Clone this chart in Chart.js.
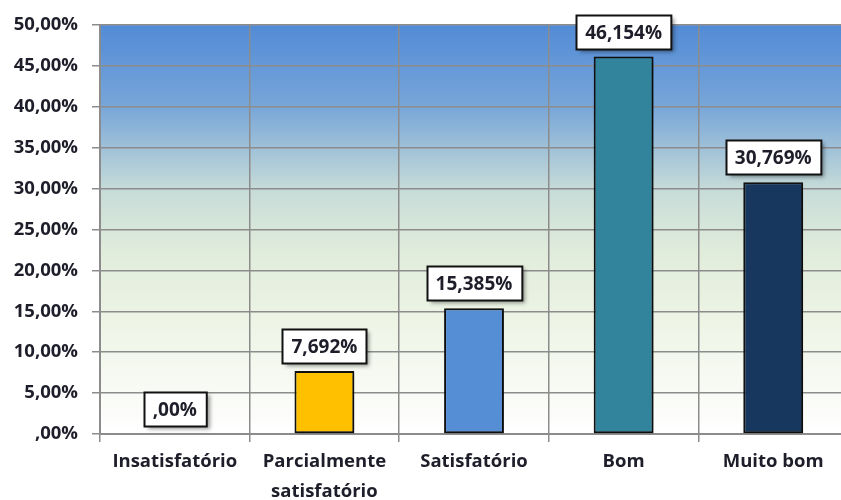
<!DOCTYPE html>
<html>
<head>
<meta charset="utf-8">
<script src="https://cdn.jsdelivr.net/npm/chart.js@4.4.1/dist/chart.umd.min.js"></script>
<style>
    html, body { margin: 0; padding: 0; background: #ffffff; overflow: hidden; }
    #chart { display: block; }
</style>
</head>
<body>
<canvas id="chart" width="850" height="500"></canvas>
<script>
// Chart data
const categories = ['Insatisfatório', ['Parcialmente', 'satisfatório'], 'Satisfatório', 'Bom', 'Muito bom'];
const values = [0, 7.692, 15.385, 46.154, 30.769];
const barColors = ['#ffc000', '#ffc000', '#558ed5', '#31849b', '#17375e'];
const yTicks = [0, 5, 10, 15, 20, 25, 30, 35, 40, 45, 50];

const FONT = '"Open Sans", "DejaVu Sans", sans-serif';
const TEXT = '#1e1e2a';

// pt-BR style number: 0 -> ",00%"
function fmt(v, digits) {
    if (v === 0) return ',' + '0'.repeat(digits) + '%';
    return v.toFixed(digits).replace('.', ',') + '%';
}

// gradient backdrop behind the plot area
const plotBackground = {
    id: 'plotBackground',
    beforeDraw: function(chart) {
        const { ctx, chartArea: a } = chart;
        const g = ctx.createLinearGradient(0, a.top, 0, a.bottom);
        g.addColorStop(0, '#528bd6');
        g.addColorStop(0.2, '#78a6d8');
        g.addColorStop(0.4, '#c6dbd8');
        g.addColorStop(0.55, '#e0ecdb');
        g.addColorStop(0.72, '#edf4e5');
        g.addColorStop(1, '#ffffff');
        ctx.save();
        ctx.fillStyle = g;
        ctx.fillRect(a.left, a.top, a.right - a.left, a.bottom - a.top);
        ctx.restore();
    }
};

// soft shadow under bars
const barShadow = {
    id: 'barShadow',
    beforeDatasetsDraw: function(chart) {
        const ctx = chart.ctx;
        ctx.save();
        ctx.shadowColor = 'rgba(0,0,0,0.35)';
        ctx.shadowBlur = 4;
        ctx.shadowOffsetX = 3;
        ctx.shadowOffsetY = 2;
    },
    afterDatasetsDraw: function(chart) {
        chart.ctx.restore();
    }
};

// boxed value labels above each bar
const valueLabels = {
    id: 'valueLabels',
    afterDatasetsDraw: function(chart) {
        const ctx = chart.ctx;
        const meta = chart.getDatasetMeta(0);
        ctx.save();
        ctx.font = 'bold 19px ' + FONT;
        ctx.textAlign = 'center';
        ctx.textBaseline = 'middle';
        meta.data.forEach(function(bar, i) {
            const text = fmt(values[i], values[i] === 0 ? 2 : 3);
            const w = ctx.measureText(text).width + 18;
            const h = 34;
            const bottom = bar.y - 8;
            const x = Math.round(bar.x - w / 2) + 0.5;
            const y = Math.round(bottom - h) + 0.5;
            ctx.save();
            ctx.shadowColor = 'rgba(0,0,0,0.4)';
            ctx.shadowBlur = 4;
            ctx.shadowOffsetX = 3;
            ctx.shadowOffsetY = 2;
            ctx.fillStyle = '#ffffff';
            ctx.fillRect(x, y, w, h);
            ctx.restore();
            ctx.lineWidth = 2;
            ctx.strokeStyle = '#111111';
            ctx.strokeRect(x, y, w, h);
            ctx.fillStyle = TEXT;
            ctx.fillText(text, bar.x, y + h / 2 + 1);
        });
        ctx.restore();
    }
};

new Chart(document.getElementById('chart'), {
    type: 'bar',
    data: {
        labels: categories,
        datasets: [{
            data: values,
            backgroundColor: barColors,
            borderColor: '#111111',
            borderWidth: 2,
            borderSkipped: false,
            categoryPercentage: 1,
            barPercentage: 0.4
        }]
    },
    options: {
        responsive: false,
        animation: false,
        layout: { padding: { top: 22, right: 2, left: 0, bottom: 0 } },
        plugins: {
            legend: { display: false },
            tooltip: { enabled: false }
        },
        scales: {
            x: {
                grid: {
                    color: '#8c8c8c',
                    lineWidth: 1.5,
                    tickLength: 8,
                    offset: true
                },
                border: { color: '#8c8c8c', width: 2 },
                ticks: {
                    color: TEXT,
                    font: { family: FONT, size: 18.5, weight: 'bold', lineHeight: 1.6 },
                    padding: 5,
                    maxRotation: 0,
                    autoSkip: false
                },
                afterFit: function(scale) { scale.height = 66; }
            },
            y: {
                min: 0,
                max: 50,
                afterBuildTicks: function(scale) {
                    scale.ticks = yTicks.map(function(v) { return { value: v }; });
                },
                grid: {
                    color: '#8c8c8c',
                    lineWidth: 1.5,
                    tickLength: 8
                },
                border: { color: '#8c8c8c', width: 2 },
                ticks: {
                    color: TEXT,
                    font: { family: FONT, size: 18.5, weight: 'bold' },
                    padding: 14,
                    callback: function(v) { return fmt(v, 2); }
                },
                afterFit: function(scale) { scale.width = 100; }
            }
        }
    },
    plugins: [plotBackground, barShadow, valueLabels]
});
</script>
</body>
</html>
